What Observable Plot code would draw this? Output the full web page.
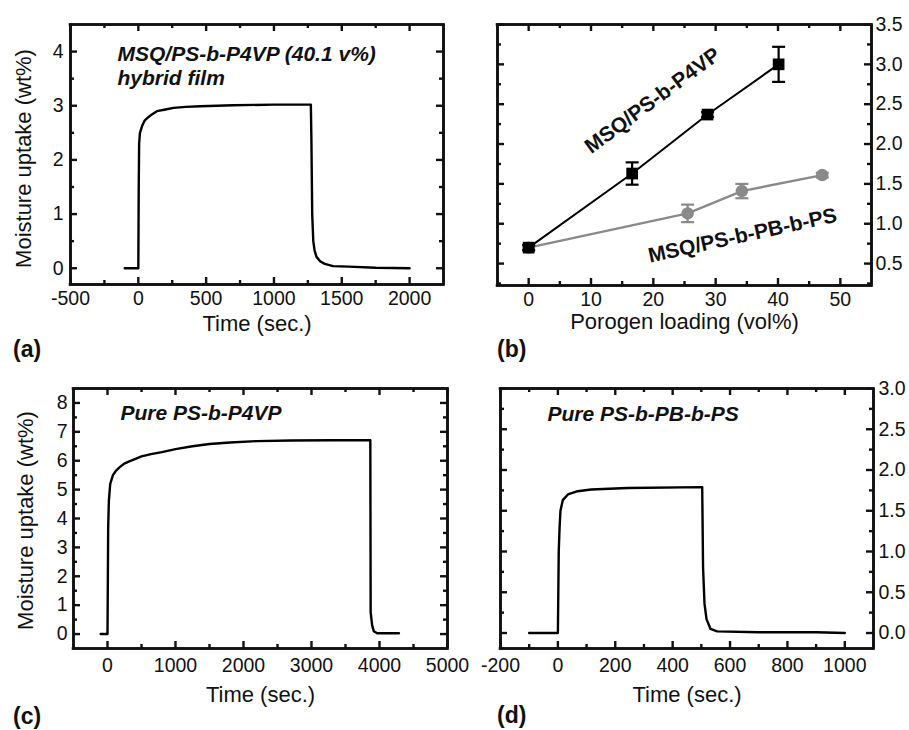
<!DOCTYPE html>
<html><head><meta charset="utf-8">
<script src="https://cdn.jsdelivr.net/npm/d3@7"></script>
<script src="https://cdn.jsdelivr.net/npm/@observablehq/plot@0.6"></script>
<style>
body{margin:0;background:#fff;}
#fig{position:relative;width:909px;height:730px;overflow:hidden;font-family:"Liberation Sans",Arial,sans-serif;background:#fff;}
.panel{position:absolute;}
.tag{position:absolute;font-weight:bold;font-size:23px;color:#111;line-height:1;}
</style></head><body><div id="fig"></div>
<script>
// ---------- data ----------
// (a) MSQ/PS-b-P4VP (40.1 v%) hybrid film
const aTime   = [-100,0,3,6,12,27,45,64,100,137,200,260,350,456,700,1000,1272,1276,1282,1290,1300,1314,1340,1375,1436,1550,1750,2000];
const aUptake = [0,0,1.5,2.3,2.5,2.62,2.72,2.77,2.84,2.9,2.93,2.96,2.98,2.99,3.01,3.02,3.02,2.4,1.0,0.5,0.32,0.21,0.13,0.08,0.04,0.03,0.01,0.0];
// (b) moisture uptake vs porogen loading
const bLoadP4VP   = [0,16.6,28.7,40.1];
const bUptakeP4VP = [0.70,1.63,2.37,3.00];
const bErrP4VP    = [0.03,0.14,0.03,0.22];
const bLoadPB     = [0,25.5,34.2,47.1];
const bUptakePB   = [0.70,1.13,1.41,1.61];
const bErrPB      = [0.04,0.11,0.09,0.03];
// (c) pure PS-b-P4VP
const cTime   = [-100,0,10,20,40,80,123,180,246,320,394,500,640,800,1000,1250,1500,1800,2200,2700,3300,3865,3870,3892,3916,3966,4286];
const cUptake = [0,0,3.7,4.6,5.2,5.5,5.65,5.78,5.9,5.98,6.05,6.15,6.23,6.3,6.4,6.5,6.58,6.63,6.68,6.7,6.71,6.71,0.75,0.3,0.1,0.03,0.03];
// (d) pure PS-b-PB-b-PS
const dTime   = [-100,0,3,6,9,17,35,69,116,243,503,506,511,518,532,555,700,900,1000];
const dUptake = [0,0,1.0,1.3,1.5,1.63,1.7,1.74,1.76,1.78,1.79,0.8,0.36,0.17,0.05,0.02,0.01,0.01,0.0];

// tick labels
const aXTicks = [-500,0,500,1000,1500,2000];
const aYTicks = [0,1,2,3,4];
const bXTicks = [0,10,20,30,40,50];
const bYTicks = [0.5,1.0,1.5,2.0,2.5,3.0,3.5];
const cXTicks = [0,1000,2000,3000,4000,5000];
const cYTicks = [0,1,2,3,4,5,6,7,8];
const dXTicks = [-200,0,200,400,600,800,1000];
const dYTicks = [0.0,0.5,1.0,1.5,2.0,2.5,3.0];

// ---------- helpers ----------
const FONT = '"Liberation Sans", Arial, sans-serif';
const INK = "#111";
const baseStyle = {fontSize: "19.5px", fontFamily: FONT, background: "transparent", overflow: "visible", color: INK};

function minor(domain, step, majors) {
  const [a, b] = domain;
  const out = [];
  for (let v = Math.ceil(a / step) * step; v <= b + 1e-9; v += step) {
    const r = Math.round(v * 1000) / 1000;
    if (r > a + 1e-9 && r < b - 1e-9 && !majors.some(m => Math.abs(m - r) < 1e-9)) out.push(r);
  }
  return out;
}
// box outline plus inward ticks on all four sides (tick lengths in px, converted to scale units)
function box(xd, yd, xMaj, xMin, yMaj, yMin, fw, fh) {
  const L = 7, l = 4, s = {stroke: INK, strokeWidth: 2.4};
  const ux = p => p / fw * (xd[1] - xd[0]);
  const uy = p => p / fh * (yd[1] - yd[0]);
  const vt = (xs, n) => [
    Plot.ruleX(xs.map(x => ({x})), {x: "x", y1: () => yd[0], y2: () => yd[0] + uy(n), ...s}),
    Plot.ruleX(xs.map(x => ({x})), {x: "x", y1: () => yd[1] - uy(n), y2: () => yd[1], ...s})
  ];
  const ht = (ys, n) => [
    Plot.ruleY(ys.map(y => ({y})), {y: "y", x1: () => xd[0], x2: () => xd[0] + ux(n), ...s}),
    Plot.ruleY(ys.map(y => ({y})), {y: "y", x1: () => xd[1] - ux(n), x2: () => xd[1], ...s})
  ];
  return [
    ...vt(xMaj, L), ...vt(xMin, l), ...ht(yMaj, L), ...ht(yMin, l),
    Plot.ruleX(xd.map(x => ({x})), {x: "x", y1: () => yd[0], y2: () => yd[1], stroke: INK, strokeWidth: 2.6}),
    Plot.ruleY(yd.map(y => ({y})), {y: "y", x1: () => xd[0], x2: () => xd[1], stroke: INK, strokeWidth: 2.6, strokeLinecap: "square"}),
    Plot.frame({stroke: INK, strokeWidth: 2.6})
  ];
}
const fig = document.getElementById("fig");
function place(svg, left, top) {
  const d = document.createElement("div");
  d.className = "panel"; d.style.left = left + "px"; d.style.top = top + "px";
  d.appendChild(svg); fig.appendChild(d);
}
function tag(txt, left, top) {
  const d = document.createElement("div");
  d.className = "tag"; d.textContent = txt;
  d.style.left = left + "px"; d.style.top = top + "px";
  fig.appendChild(d);
}
const f1 = d3.format(".1f");
const capSymbol = {draw(ctx, size) { const w = Math.sqrt(size / Math.PI); ctx.moveTo(-w, 0); ctx.lineTo(w, 0); }};
const titleOpts = {fontSize: 22, fill: INK, fontFamily: FONT, textAnchor: "middle"};
const annot = {fontSize: 21, fontWeight: "bold", fontStyle: "italic", fill: INK, fontFamily: FONT, textAnchor: "start", lineAnchor: "top"};

// ---------- panel (a) ----------
{
  const W = 450, H = 365, mL = 70, mR = 7, mT = 24, mB = 81;
  const xd = [-500, 2250], yd = [-0.3, 4.5];
  const fw = W - mL - mR, fh = H - mT - mB;
  const pts = aTime.map((t, i) => ({t, u: aUptake[i]}));
  const svg = Plot.plot({
    width: W, height: H, marginLeft: mL, marginRight: mR, marginTop: mT, marginBottom: mB,
    style: baseStyle,
    x: {domain: xd, ticks: aXTicks, tickFormat: String, tickSize: 0, tickPadding: 7, label: null},
    y: {domain: yd, ticks: aYTicks, tickFormat: String, tickSize: 0, tickPadding: 7, label: null},
    marks: [
      Plot.line(pts, {x: "t", y: "u", stroke: "#000", strokeWidth: 2.4}),
      ...box(xd, yd, aXTicks, minor(xd, 250, aXTicks), aYTicks, minor(yd, 0.5, aYTicks), fw, fh),
      Plot.text(["MSQ/PS-b-P4VP (40.1 v%)\nhybrid film"], {...annot, frameAnchor: "top-left", dx: 47, dy: 19, lineHeight: 1.15}),
      Plot.text(["Time (sec.)"], {...titleOpts, frameAnchor: "bottom", dy: 31, lineAnchor: "top"}),
      Plot.text(["Moisture uptake (wt%)"], {...titleOpts, frameAnchor: "left", dx: -47, dy: 4, rotate: -90})
    ]
  });
  place(svg, 0, 0);
}

// ---------- panel (b) ----------
{
  const W = 459, H = 365, mL = 47, mR = 38, mT = 24, mB = 80;
  const xd = [-5, 55], yd = [0.225, 3.5];
  const fw = W - mL - mR, fh = H - mT - mB;
  const P = bLoadP4VP.map((x, i) => ({x, y: bUptakeP4VP[i], e: bErrP4VP[i]}));
  const G = bLoadPB.map((x, i) => ({x, y: bUptakePB[i], e: bErrPB[i]}));
  const caps = arr => arr.flatMap(d => [{x: d.x, y: d.y - d.e}, {x: d.x, y: d.y + d.e}]);
  const grey = "#8a8a8a";
  const lbl = {fontSize: 21, fontWeight: "bold", fill: INK, fontFamily: FONT, frameAnchor: "top-left", textAnchor: "middle", lineAnchor: "middle"};
  const svg = Plot.plot({
    width: W, height: H, marginLeft: mL, marginRight: mR, marginTop: mT, marginBottom: mB,
    style: baseStyle,
    x: {domain: xd, ticks: bXTicks, tickFormat: String, tickSize: 0, tickPadding: 7, label: null},
    y: {domain: yd, axis: "right", ticks: bYTicks, tickFormat: f1, tickSize: 0, tickPadding: 4, label: null},
    marks: [
      Plot.line(G, {x: "x", y: "y", stroke: grey, strokeWidth: 2.4}),
      Plot.ruleX(G, {x: "x", y1: d => d.y - d.e, y2: d => d.y + d.e, stroke: grey, strokeWidth: 2.2}),
      Plot.dot(caps(G), {x: "x", y: "y", symbol: capSymbol, r: 6.5, stroke: grey, strokeWidth: 2.2}),
      Plot.dot(G, {x: "x", y: "y", r: 5.5, fill: grey, stroke: grey}),
      Plot.line(P, {x: "x", y: "y", stroke: "#000", strokeWidth: 2}),
      Plot.ruleX(P, {x: "x", y1: d => d.y - d.e, y2: d => d.y + d.e, stroke: "#000", strokeWidth: 2.2}),
      Plot.dot(caps(P), {x: "x", y: "y", symbol: capSymbol, r: 6.5, stroke: "#000", strokeWidth: 2.2}),
      Plot.dot(P, {x: "x", y: "y", symbol: "square", r: 6.6, fill: "#000"}),
      ...box(xd, yd, bXTicks, minor(xd, 5, bXTicks), bYTicks, minor(yd, 0.25, bYTicks), fw, fh),
      Plot.text(["MSQ/PS-b-P4VP"], {...lbl, dx: 155, dy: 76, rotate: -36.5}),
      Plot.text(["MSQ/PS-b-PB-b-PS"], {...lbl, dx: 245, dy: 211, rotate: -12.4}),
      Plot.text(["Porogen loading (vol%)"], {...titleOpts, frameAnchor: "bottom", dy: 28, lineAnchor: "top"})
    ]
  });
  place(svg, 450, 0);
}

// ---------- panel (c) ----------
{
  const W = 450, H = 365, mL = 73, mR = 3, mT = 23, mB = 82;
  const xd = [-500, 5000], yd = [-0.5, 8.5];
  const fw = W - mL - mR, fh = H - mT - mB;
  const pts = cTime.map((t, i) => ({t, u: cUptake[i]}));
  const svg = Plot.plot({
    width: W, height: H, marginLeft: mL, marginRight: mR, marginTop: mT, marginBottom: mB,
    style: baseStyle,
    x: {domain: xd, ticks: cXTicks, tickFormat: String, tickSize: 0, tickPadding: 10, label: null},
    y: {domain: yd, ticks: cYTicks, tickFormat: String, tickSize: 0, tickPadding: 6, label: null},
    marks: [
      Plot.line(pts, {x: "t", y: "u", stroke: "#000", strokeWidth: 2.4}),
      ...box(xd, yd, cXTicks, minor(xd, 500, cXTicks), cYTicks, minor(yd, 0.5, cYTicks), fw, fh),
      Plot.text(["Pure PS-b-P4VP"], {...annot, frameAnchor: "top-left", dx: 47, dy: 17}),
      Plot.text(["Time (sec.)"], {...titleOpts, frameAnchor: "bottom", dy: 38, lineAnchor: "top"}),
      Plot.text(["Moisture uptake (wt%)"], {...titleOpts, frameAnchor: "left", dx: -48, dy: 2, rotate: -90})
    ]
  });
  place(svg, 0, 365);
}

// ---------- panel (d) ----------
{
  const W = 459, H = 365, mL = 50, mR = 36, mT = 23, mB = 82;
  const xd = [-200, 1100], yd = [-0.19, 3.0];
  const fw = W - mL - mR, fh = H - mT - mB;
  const pts = dTime.map((t, i) => ({t, u: dUptake[i]}));
  const svg = Plot.plot({
    width: W, height: H, marginLeft: mL, marginRight: mR, marginTop: mT, marginBottom: mB,
    style: baseStyle,
    x: {domain: xd, ticks: dXTicks, tickFormat: String, tickSize: 0, tickPadding: 10, label: null},
    y: {domain: yd, axis: "right", ticks: dYTicks, tickFormat: f1, tickSize: 0, tickPadding: 5, label: null},
    marks: [
      Plot.line(pts, {x: "t", y: "u", stroke: "#000", strokeWidth: 2.4}),
      ...box(xd, yd, dXTicks, minor(xd, 100, dXTicks), dYTicks, minor(yd, 0.25, dYTicks), fw, fh),
      Plot.text(["Pure PS-b-PB-b-PS"], {...annot, frameAnchor: "top-left", dx: 47, dy: 18}),
      Plot.text(["Time (sec.)"], {...titleOpts, frameAnchor: "bottom", dy: 38, lineAnchor: "top"})
    ]
  });
  place(svg, 450, 365);
}

// panel tags
tag("(a)", 13, 338);
tag("(b)", 497, 338);
tag("(c)", 13, 705);
tag("(d)", 497, 704);
</script>
</body></html>
